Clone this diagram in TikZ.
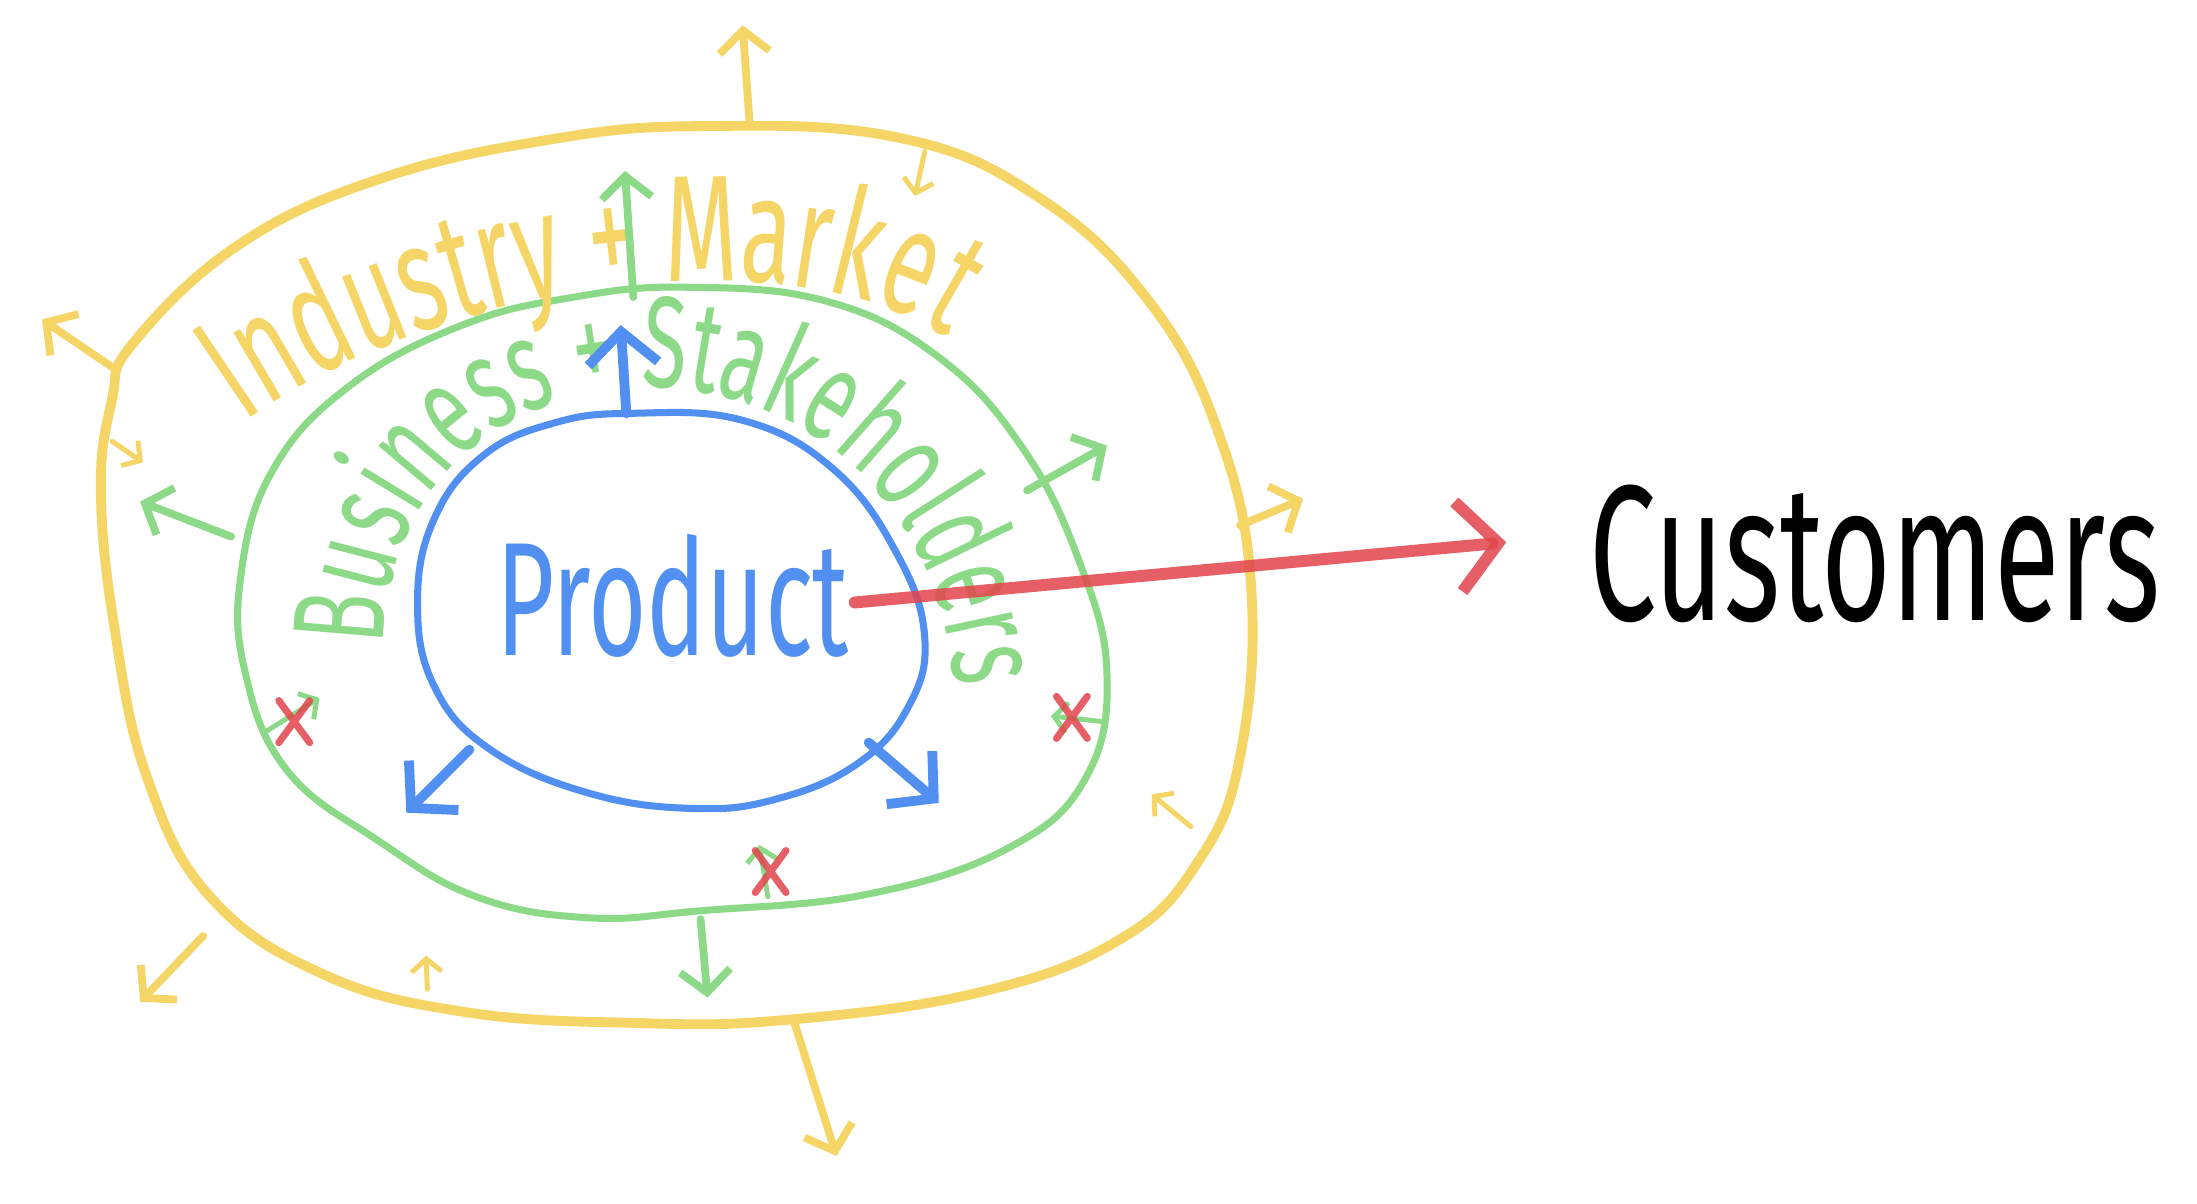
\documentclass[tikz,border=0pt]{standalone}
\usepackage{fontspec}
\setmainfont{Fira Sans}
\newfontfamily\handfont[FakeStretch=0.62]{Fira Sans}
\usepackage{tikz}
\usetikzlibrary{positioning,arrows.meta,decorations.text}
\definecolor{ringyellow}{HTML}{F5D565}
\definecolor{ringgreen}{HTML}{8CDA88}
\definecolor{coreblue}{HTML}{5190F0}
\definecolor{crossred}{HTML}{E2444C}

\begin{document}
\begin{tikzpicture}[x=0.01401cm, y=-0.01401cm, line cap=round, line join=round,
                   yring/.style={draw=ringyellow, line width=2.8pt},
                   gring/.style={draw=ringgreen, line width=2pt},
                   bring/.style={draw=coreblue, line width=2pt},
                   yarrow/.style={draw=ringyellow, line width=2.2pt, -{Straight Barb[length=2.2mm,width=5mm]}},
                   garrow/.style={draw=ringgreen, line width=2.2pt, -{Straight Barb[length=2.2mm,width=5mm]}},
                   barrow/.style={draw=coreblue, line width=2.8pt, -{Straight Barb[length=3.2mm,width=7mm]}},
                   smallarrow/.style={line width=1.4pt, -{Straight Barb[length=1.3mm,width=3mm]}},
                   cross/.style={draw=crossred, line width=2pt, opacity=0.85},
                   hand/.style={inner sep=0pt, font=\handfont}]
    \path[use as bounding box, fill=white] (0,0) rectangle (1568,859);
    % the three rings
    \draw[yring] plot[smooth cycle, tension=0.7] coordinates {(95,245) (170,175) (270,128) (390,100) (500,90) (640,98) (740,140) (820,215) (870,310) (893,420) (885,540) (855,615) (800,670) (700,708) (560,728) (450,730) (330,722) (230,695) (150,640) (105,555) (82,450) (72,350) (80,285)};
    \draw[gring] plot[smooth cycle, tension=0.7] coordinates {(490,205) (590,215) (670,255) (730,320) (770,400) (790,480) (775,555) (720,605) (620,638) (500,650) (420,655) (340,640) (270,600) (205,550) (175,480) (172,410) (195,335) (250,275) (330,232) (410,212)};
    \draw[bring] plot[smooth cycle, tension=0.7] coordinates {(450,295) (530,300) (595,335) (640,395) (660,455) (648,505) (612,545) (555,570) (495,577) (420,566) (350,535) (310,490) (298,430) (310,370) (345,325) (395,302)};
    % labels
    \node[hand, coreblue, font=\handfont\fontsize{46}{50}\selectfont] (product) at (480,425) {Product};
    \node[hand, black, font=\handfont\fontsize{55}{60}\selectfont] (customers) at (1338,395) {Customers};
    \path[decorate, decoration={text along path, text align=center,
          text={|\handfont\fontsize{37}{40}\selectfont\color{ringgreen}|Business + Stakeholders}}]
          (274,468) .. controls (268,212) and (664,204) .. (682,498);
    \path[decorate, decoration={text along path, text align=center,
          text={|\handfont\fontsize{43}{46}\selectfont\color{ringyellow}|Industry + Market}}]
          (182,296) .. controls (330,196) and (560,172) .. (668,236);
    % yellow arrows
    \draw[yarrow] (535,88) -- (530,18);
    \draw[yarrow, smallarrow] (660,108) -- (653,140);
    \draw[yarrow] (80,262) -- (30,228);
    \draw[yarrow, smallarrow] (80,315) -- (102,330);
    \draw[yarrow] (145,668) -- (100,715);
    \draw[yarrow, smallarrow] (305,706) -- (304,682);
    \draw[yarrow] (567,730) -- (597,825);
    \draw[yarrow] (885,375) -- (930,356);
    \draw[yarrow, smallarrow] (850,590) -- (822,567);
    % green arrows
    \draw[garrow] (452,212) -- (446,122);
    \draw[garrow] (733,350) -- (790,318);
    \draw[garrow] (165,383) -- (100,358);
    \draw[garrow] (500,656) -- (505,712);
    \draw[garrow, smallarrow] (190,522) -- (228,498);
    \draw[garrow, smallarrow] (548,640) -- (542,603);
    \draw[garrow, smallarrow] (787,515) -- (750,511);
    % blue arrows
    \draw[barrow] (447,295) -- (443,232);
    \draw[barrow] (335,535) -- (290,580);
    \draw[barrow] (620,530) -- (670,573);
    % crosses
    \coordinate (x1) at (210,515);
    \coordinate (x2) at (765,512);
    \coordinate (x3) at (550,622);
    \foreach \c in {x1,x2,x3}
        \draw[cross] (\c) +(-11,-15) -- +(11,15) +(11,-15) -- +(-11,15);
    % product to customers
    \coordinate (start) at (610,430);
    \draw[draw=crossred, line width=3.4pt, opacity=0.85, -{Straight Barb[length=4mm,width=9mm]}]
        (start) -- (1075,387);
\end{tikzpicture}
\end{document}
